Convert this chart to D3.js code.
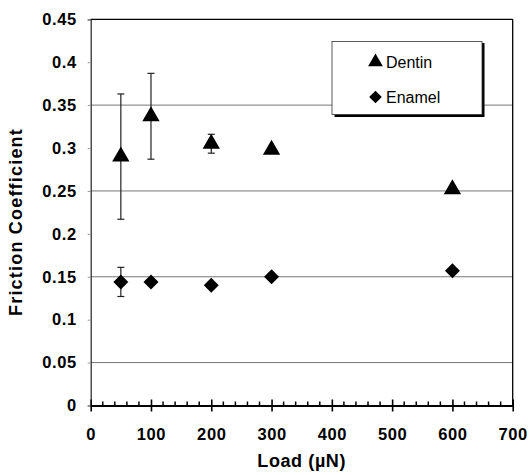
<!DOCTYPE html>
<html>
<head>
<meta charset="utf-8">
<script src="https://d3js.org/d3.v7.min.js"></script>
<style>
  body { margin: 0; background: #fff; }
  svg text { font-family: "Liberation Sans", Arial, sans-serif; }
</style>
</head>
<body>
<div id="chart"></div>
<script>

// data
var loads = [50, 100, 200, 300, 600];
var dentin = [0.290, 0.337, 0.305, 0.298, 0.252];
var dentinErr = [0.073, 0.050, 0.011, 0, 0];
var enamel = [0.144, 0.144, 0.140, 0.150, 0.157];
var enamelErr = [0.017, 0, 0, 0, 0];
var xTicks = [0, 100, 200, 300, 400, 500, 600, 700];
var yTicks = [0, 0.05, 0.1, 0.15, 0.2, 0.25, 0.3, 0.35, 0.4, 0.45];
var gridVals = [0.05, 0.15, 0.25, 0.35];

var W = 530, H = 475;
var svg = d3.select("#chart").append("svg")
  .attr("width", W).attr("height", H);

var x = d3.scaleLinear().domain([0, 700]).range([90.7, 512.7]);
var y = d3.scaleLinear().domain([0, 0.45]).range([405.5, 19.3]);

// grid lines
svg.append("g").selectAll("line").data(gridVals).enter().append("line")
  .attr("x1", x(0)).attr("x2", x(700))
  .attr("y1", function(d) { return y(d); })
  .attr("y2", function(d) { return y(d); })
  .attr("stroke", "#777").attr("stroke-width", 1);

// top and right border
svg.append("line").attr("x1", x(0)).attr("x2", x(700))
  .attr("y1", y(0.45)).attr("y2", y(0.45))
  .attr("stroke", "#000").attr("stroke-width", 1.3);
svg.append("line").attr("x1", x(700)).attr("x2", x(700))
  .attr("y1", y(0.45)).attr("y2", y(0))
  .attr("stroke", "#000").attr("stroke-width", 1.3);

// y axis
var yAxis = svg.append("g")
  .attr("transform", "translate(" + x(0) + ",0)")
  .call(d3.axisLeft(y).tickValues(yTicks).tickSize(3)
    .tickFormat(function(d) { return d === 0 ? "0" : String(+d.toFixed(2)); }));
yAxis.select(".domain").attr("stroke", "#222").attr("stroke-width", 1.2);
yAxis.selectAll(".tick line").attr("stroke", "#999");
yAxis.selectAll("text")
  .attr("x", -14)
  .style("font-size", "16.5px").style("font-weight", "bold")
  .style("letter-spacing", "0.6px").attr("fill", "#000");

// x axis: minor ticks every 20
var minor = d3.range(0, 701, 20).filter(function(d) { return d % 100 !== 0; });
svg.append("g").selectAll("line").data(minor).enter().append("line")
  .attr("x1", function(d) { return x(d); }).attr("x2", function(d) { return x(d); })
  .attr("y1", y(0) - 4).attr("y2", y(0))
  .attr("stroke", "#000").attr("stroke-width", 1.5);

var xAxis = svg.append("g")
  .attr("transform", "translate(0," + y(0) + ")")
  .call(d3.axisBottom(x).tickValues(xTicks).tickSize(5).tickSizeOuter(0).tickPadding(18));
xAxis.select(".domain").attr("stroke", "#000").attr("stroke-width", 2.2);
xAxis.selectAll(".tick line").attr("y1", -6).attr("y2", 6)
  .attr("stroke", "#000").attr("stroke-width", 1.6);
xAxis.selectAll("text")
  .style("font-size", "16.5px").style("font-weight", "bold")
  .style("letter-spacing", "0.6px").attr("fill", "#000");

// axis titles
svg.append("text").attr("x", x(350)).attr("y", 467)
  .attr("text-anchor", "middle")
  .style("font-size", "18px").style("font-weight", "bold")
  .style("letter-spacing", "0.6px")
  .text("Load (\u00b5N)");
svg.append("text")
  .attr("transform", "translate(22,222) rotate(-90)")
  .attr("text-anchor", "middle")
  .style("font-size", "18px").style("font-weight", "bold")
  .style("letter-spacing", "1.2px")
  .text("Friction Coefficient");

// error bars
function errorBars(vals, errs) {
  var rows = loads.map(function(l, i) { return {l: l, v: vals[i], e: errs[i]}; })
    .filter(function(d) { return d.e > 0; });
  var g = svg.append("g").attr("stroke", "#222").attr("stroke-width", 1.2);
  rows.forEach(function(d) {
    g.append("line").attr("x1", x(d.l)).attr("x2", x(d.l))
      .attr("y1", y(d.v + d.e)).attr("y2", y(d.v - d.e));
    [d.v + d.e, d.v - d.e].forEach(function(v) {
      g.append("line").attr("x1", x(d.l) - 3.5).attr("x2", x(d.l) + 3.5)
        .attr("y1", y(v)).attr("y2", y(v));
    });
  });
}
errorBars(dentin, dentinErr);
errorBars(enamel, enamelErr);

var tri = d3.symbol().type(d3.symbolTriangle).size(130);
var dia = d3.symbol().type(d3.symbolSquare).size(112);

svg.append("g").selectAll("path").data(loads).enter().append("path")
  .attr("d", tri)
  .attr("transform", function(d, i) { return "translate(" + x(d) + "," + y(dentin[i]) + ")"; })
  .attr("fill", "#000");

svg.append("g").selectAll("path").data(loads).enter().append("path")
  .attr("d", dia)
  .attr("transform", function(d, i) { return "translate(" + x(d) + "," + y(enamel[i]) + ") rotate(45)"; })
  .attr("fill", "#000");

// legend box with shadow
var leg = svg.append("g");
leg.append("rect").attr("x", 334.5).attr("y", 43).attr("width", 150).attr("height", 74)
  .attr("fill", "#000");
leg.append("rect").attr("x", 332).attr("y", 41.5).attr("width", 150).attr("height", 73)
  .attr("fill", "#fff").attr("stroke", "#333").attr("stroke-width", 0.8);
leg.append("path").attr("d", tri.size(95)).attr("transform", "translate(375.5,62)");
leg.append("path").attr("d", dia.size(80)).attr("transform", "translate(375.5,97) rotate(45)");
leg.append("text").attr("x", 386).attr("y", 68).style("font-size", "16px").text("Dentin");
leg.append("text").attr("x", 386).attr("y", 103).style("font-size", "16px").text("Enamel");

</script>
</body>
</html>
